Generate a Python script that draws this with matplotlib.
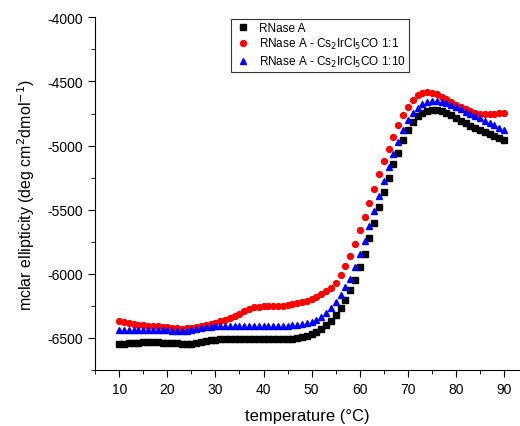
import matplotlib
matplotlib.use('Agg')
import matplotlib.pyplot as plt
from matplotlib.ticker import MultipleLocator

plt.rcParams['font.family'] = ['Liberation Sans', 'DejaVu Sans']
plt.rcParams['axes.unicode_minus'] = False

# temperatura (°C), mỗi 1 độ
temps = list(range(10, 91))

rnase = [-6545, -6543, -6540, -6538, -6536, -6535, -6535, -6534, -6535, -6536,
         -6538, -6540, -6542, -6544, -6545, -6543, -6538, -6532, -6525, -6519,
         -6514, -6510, -6508, -6507, -6507, -6507, -6508, -6509, -6510, -6511,
         -6511, -6511, -6511, -6510, -6509, -6507, -6504, -6499, -6491, -6481,
         -6468, -6451, -6430, -6402, -6366, -6322, -6267, -6202, -6128, -6047,
         -5944, -5843, -5724, -5602, -5481, -5362, -5253, -5145, -5054, -4960,
         -4880, -4815, -4770, -4745, -4730, -4724, -4723, -4730, -4745, -4765,
         -4785, -4805, -4825, -4845, -4862, -4880, -4895, -4910, -4925, -4940,
         -4956]

rnase_1_1 = [-6370, -6378, -6385, -6391, -6396, -6400, -6404, -6407, -6410, -6414,
             -6418, -6421, -6425, -6426, -6425, -6420, -6413, -6405, -6397, -6390,
             -6380, -6370, -6360, -6346, -6330, -6310, -6290, -6275, -6262, -6255,
             -6253, -6253, -6253, -6252, -6250, -6245, -6238, -6230, -6220, -6208,
             -6195, -6180, -6160, -6135, -6110, -6070, -6010, -5940, -5860, -5765,
             -5660, -5555, -5445, -5335, -5225, -5120, -5025, -4930, -4840, -4762,
             -4697, -4645, -4607, -4588, -4580, -4588, -4601, -4619, -4638, -4660,
             -4680, -4700, -4718, -4732, -4745, -4752, -4757, -4755, -4752, -4747,
             -4742]

rnase_1_10 = [-6440, -6438, -6436, -6435, -6435, -6435, -6435, -6436, -6437, -6438,
              -6440, -6442, -6444, -6445, -6445, -6440, -6432, -6424, -6418, -6413,
              -6410, -6408, -6407, -6406, -6406, -6406, -6406, -6406, -6407, -6407,
              -6408, -6408, -6408, -6407, -6406, -6404, -6401, -6397, -6391, -6383,
              -6372, -6357, -6337, -6307, -6267, -6223, -6166, -6101, -6037, -5944,
              -5848, -5745, -5628, -5512, -5395, -5279, -5168, -5067, -4970, -4880,
              -4800, -4744, -4705, -4679, -4660, -4653, -4653, -4658, -4671, -4686,
              -4702, -4718, -4735, -4752, -4770, -4788, -4806, -4825, -4843, -4861,
              -4878]

fig = plt.figure(figsize=(5.2, 4.27), dpi=100)
ax = fig.add_axes([0.183, 0.131, 0.817, 0.826])

ax.plot(temps, rnase, 's', color='black', markersize=3.7, label='RNase A')
ax.plot(temps, rnase_1_1, 'o', color='#ff0000', markersize=4.2,
        label='RNase A - Cs$_2$IrCl$_5$CO 1:1')
ax.plot(temps, rnase_1_10, '^', color='#0000ff', markersize=4.7,
        label='RNase A - Cs$_2$IrCl$_5$CO 1:10')

ax.set_xlim(5, 93.3)
ax.set_ylim(-6750, -4000)
ax.xaxis.set_major_locator(MultipleLocator(10))
ax.xaxis.set_minor_locator(MultipleLocator(5))
ax.yaxis.set_major_locator(MultipleLocator(500))
ax.yaxis.set_minor_locator(MultipleLocator(250))
ax.tick_params(which='major', direction='out', length=5, labelsize=10)
ax.tick_params(which='minor', direction='out', length=3)
ax.spines['top'].set_visible(False)
ax.spines['right'].set_visible(False)

ax.set_xlabel('temperature (°C)', fontsize=12, labelpad=9)
ax.set_ylabel('mclar ellipticity (deg cm$^2$dmol$^{-1}$)', fontsize=11.5, labelpad=8)

leg = ax.legend(loc='upper left', bbox_to_anchor=(0.433, 0.967), bbox_transform=fig.transFigure,
                fontsize=8.5, frameon=True, fancybox=False, edgecolor='black',
                handletextpad=0.6, borderpad=0.25, labelspacing=0.2, handlelength=1.5)
leg.get_frame().set_linewidth(0.8)

fig.savefig('out.png', dpi=100)
